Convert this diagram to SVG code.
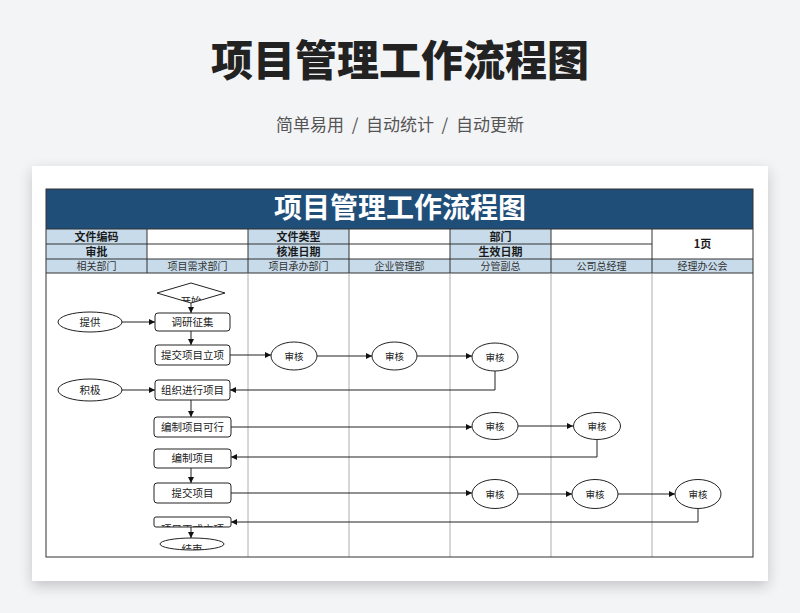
<svg xmlns="http://www.w3.org/2000/svg" width="800" height="613" viewBox="0 0 800 613">
<defs>
<filter id="sh" x="-10%" y="-10%" width="120%" height="125%">
<feGaussianBlur in="SourceAlpha" stdDeviation="7"/>
<feOffset dy="5" result="b"/>
<feComponentTransfer><feFuncA type="linear" slope="0.2"/></feComponentTransfer>
<feMerge><feMergeNode/><feMergeNode in="SourceGraphic"/></feMerge>
</filter>
<marker id="ar" viewBox="0 0 10 10" refX="10" refY="5" markerWidth="6" markerHeight="6" markerUnits="userSpaceOnUse" orient="auto">
<path d="M0,0 L10,5 L0,10 z" fill="#111"/>
</marker>
<clipPath id="cStart"><polygon points="191,283 225,293 191,303 157,293"/></clipPath>
<clipPath id="cZs"><rect x="154" y="517" width="77" height="10"/></clipPath>
<clipPath id="cEnd"><ellipse cx="192" cy="544" rx="32" ry="6"/></clipPath>
<style>
.t{font-family:"Noto Sans CJK SC","Noto Sans",sans-serif}
.hl{fill:#c7dbea}
.hb{font-size:11px;font-weight:bold;fill:#1a1a1a}
.hn{font-size:10px;fill:#333}
.g{stroke:#333;stroke-width:1;fill:none}
.gl{stroke:#9a9a9a;stroke-width:0.8;fill:none}
.n{fill:#fff;stroke:#222;stroke-width:1}
.nt{font-size:10.5px;fill:#222}
.at{font-size:9.5px;fill:#222}
.c{stroke:#222;stroke-width:1;fill:none}
</style>
</defs>
<rect width="800" height="613" fill="#f3f4f6"/>
<text class="t" x="400" y="76" text-anchor="middle" font-size="42" font-weight="900" fill="#222">项目管理工作流程图</text>
<text class="t" x="400" y="131" text-anchor="middle" font-size="17" fill="#555" xml:space="preserve">简单易用  /  自动统计  /  自动更新</text>
<rect x="32" y="166" width="736" height="415" fill="#fff" filter="url(#sh)"/>

<g id="table">
<rect x="46" y="189" width="707" height="40" fill="#1f4e79"/>
<text class="t" x="400" y="218" text-anchor="middle" font-size="28" font-weight="bold" fill="#fff">项目管理工作流程图</text>
<rect class="hl" x="46" y="229" width="101" height="30"/>
<rect class="hl" x="248" y="229" width="101" height="30"/>
<rect class="hl" x="450" y="229" width="101" height="30"/>
<rect class="hl" x="46" y="259" width="707" height="14"/>
<path class="g" d="M46,229H753 M46,244H652 M46,259H753 M46,273H753 M147,229V273 M248,229V273 M349,229V273 M450,229V273 M551,229V273 M652,229V273"/>
<path class="gl" d="M248,273V557 M349,273V557 M450,273V557 M551,273V557 M652,273V557"/>
<rect class="g" x="46" y="189" width="707" height="368"/>
<text class="t hb" x="96.5" y="240.5" text-anchor="middle">文件编码</text>
<text class="t hb" x="96.5" y="255.5" text-anchor="middle">审批</text>
<text class="t hb" x="298.5" y="240.5" text-anchor="middle">文件类型</text>
<text class="t hb" x="298.5" y="255.5" text-anchor="middle">核准日期</text>
<text class="t hb" x="500.5" y="240.5" text-anchor="middle">部门</text>
<text class="t hb" x="500.5" y="255.5" text-anchor="middle">生效日期</text>
<text class="t hb" x="702.5" y="248" text-anchor="middle">1页</text>
<text class="t hn" x="96.5" y="270" text-anchor="middle">相关部门</text>
<text class="t hn" x="197.5" y="270" text-anchor="middle">项目需求部门</text>
<text class="t hn" x="298.5" y="270" text-anchor="middle">项目承办部门</text>
<text class="t hn" x="399.5" y="270" text-anchor="middle">企业管理部</text>
<text class="t hn" x="500.5" y="270" text-anchor="middle">分管副总</text>
<text class="t hn" x="601.5" y="270" text-anchor="middle">公司总经理</text>
<text class="t hn" x="702.5" y="270" text-anchor="middle">经理办公会</text>
</g>

<g id="connectors">
<path class="c" marker-end="url(#ar)" d="M191,303V313"/>
<path class="c" marker-end="url(#ar)" d="M122,322H155"/>
<path class="c" marker-end="url(#ar)" d="M191,331V345"/>
<path class="c" marker-end="url(#ar)" d="M230,355H271"/>
<path class="c" marker-end="url(#ar)" d="M317,356H372"/>
<path class="c" marker-end="url(#ar)" d="M417,356H472"/>
<path class="c" marker-end="url(#ar)" d="M495,371V390H230"/>
<path class="c" marker-end="url(#ar)" d="M122,390H155"/>
<path class="c" marker-end="url(#ar)" d="M191,400V417"/>
<path class="c" marker-end="url(#ar)" d="M231,427H472"/>
<path class="c" marker-end="url(#ar)" d="M518,426H573"/>
<path class="c" marker-end="url(#ar)" d="M597,440V457H231"/>
<path class="c" marker-end="url(#ar)" d="M191,468V483"/>
<path class="c" marker-end="url(#ar)" d="M231,493H472"/>
<path class="c" marker-end="url(#ar)" d="M518,494H572"/>
<path class="c" marker-end="url(#ar)" d="M618,494H675"/>
<path class="c" marker-end="url(#ar)" d="M698,508V522H231"/>
<path class="c" marker-end="url(#ar)" d="M191,527V538"/>
</g>

<g id="n-start"><polygon class="n" points="191,283 225,293 191,303 157,293"/><text class="t nt" x="191" y="305" text-anchor="middle" clip-path="url(#cStart)">开始</text></g>
<g id="n-tigong"><ellipse class="n" cx="90" cy="322" rx="32" ry="10"/><text class="t nt" x="90" y="326" text-anchor="middle">提供</text></g>
<g id="n-diaoyan"><rect class="n" x="155" y="313" width="75" height="18" rx="3"/><text class="t nt" x="192.5" y="326" text-anchor="middle">调研征集</text></g>
<g id="n-tijiaolixiang"><rect class="n" x="155" y="345" width="75" height="20" rx="3"/><text class="t nt" x="192.5" y="359" text-anchor="middle">提交项目立项</text></g>
<g id="n-sh1"><ellipse class="n" cx="294" cy="356" rx="23" ry="14"/><text class="t at" x="294" y="360" text-anchor="middle">审核</text></g>
<g id="n-sh2"><ellipse class="n" cx="394.5" cy="356" rx="22.5" ry="14"/><text class="t at" x="394.5" y="360" text-anchor="middle">审核</text></g>
<g id="n-sh3"><ellipse class="n" cx="495" cy="357" rx="23" ry="14"/><text class="t at" x="495" y="361" text-anchor="middle">审核</text></g>
<g id="n-jiji"><ellipse class="n" cx="90" cy="390" rx="32" ry="11"/><text class="t nt" x="90" y="394" text-anchor="middle">积极</text></g>
<g id="n-zuzhi"><rect class="n" x="155" y="380" width="75" height="20" rx="3"/><text class="t nt" x="192.5" y="394" text-anchor="middle">组织进行项目</text></g>
<g id="n-kexing"><rect class="n" x="154" y="417" width="77" height="20" rx="3"/><text class="t nt" x="192.5" y="431" text-anchor="middle">编制项目可行</text></g>
<g id="n-sh4"><ellipse class="n" cx="495" cy="426" rx="23" ry="13.5"/><text class="t at" x="495" y="430" text-anchor="middle">审核</text></g>
<g id="n-sh5"><ellipse class="n" cx="597" cy="426" rx="23.5" ry="13.5"/><text class="t at" x="597" y="430" text-anchor="middle">审核</text></g>
<g id="n-bianzhi"><rect class="n" x="154" y="449" width="77" height="19" rx="3"/><text class="t nt" x="192.5" y="462" text-anchor="middle">编制项目</text></g>
<g id="n-tijiao"><rect class="n" x="154" y="483" width="77" height="20" rx="3"/><text class="t nt" x="192.5" y="497" text-anchor="middle">提交项目</text></g>
<g id="n-sh6"><ellipse class="n" cx="495" cy="494" rx="23" ry="14.5"/><text class="t at" x="495" y="498" text-anchor="middle">审核</text></g>
<g id="n-sh7"><ellipse class="n" cx="595" cy="494" rx="23" ry="14.5"/><text class="t at" x="595" y="498" text-anchor="middle">审核</text></g>
<g id="n-sh8"><ellipse class="n" cx="698" cy="494" rx="23" ry="14.5"/><text class="t at" x="698" y="498" text-anchor="middle">审核</text></g>
<g id="n-zhengshi"><rect class="n" x="154" y="517" width="77" height="10" rx="2"/><text class="t nt" x="192.5" y="533" text-anchor="middle" clip-path="url(#cZs)">项目正式立项</text></g>
<g id="n-end"><ellipse class="n" cx="192" cy="544" rx="32" ry="6"/><text class="t nt" x="192" y="553" text-anchor="middle" clip-path="url(#cEnd)">结束</text></g>
</svg>
